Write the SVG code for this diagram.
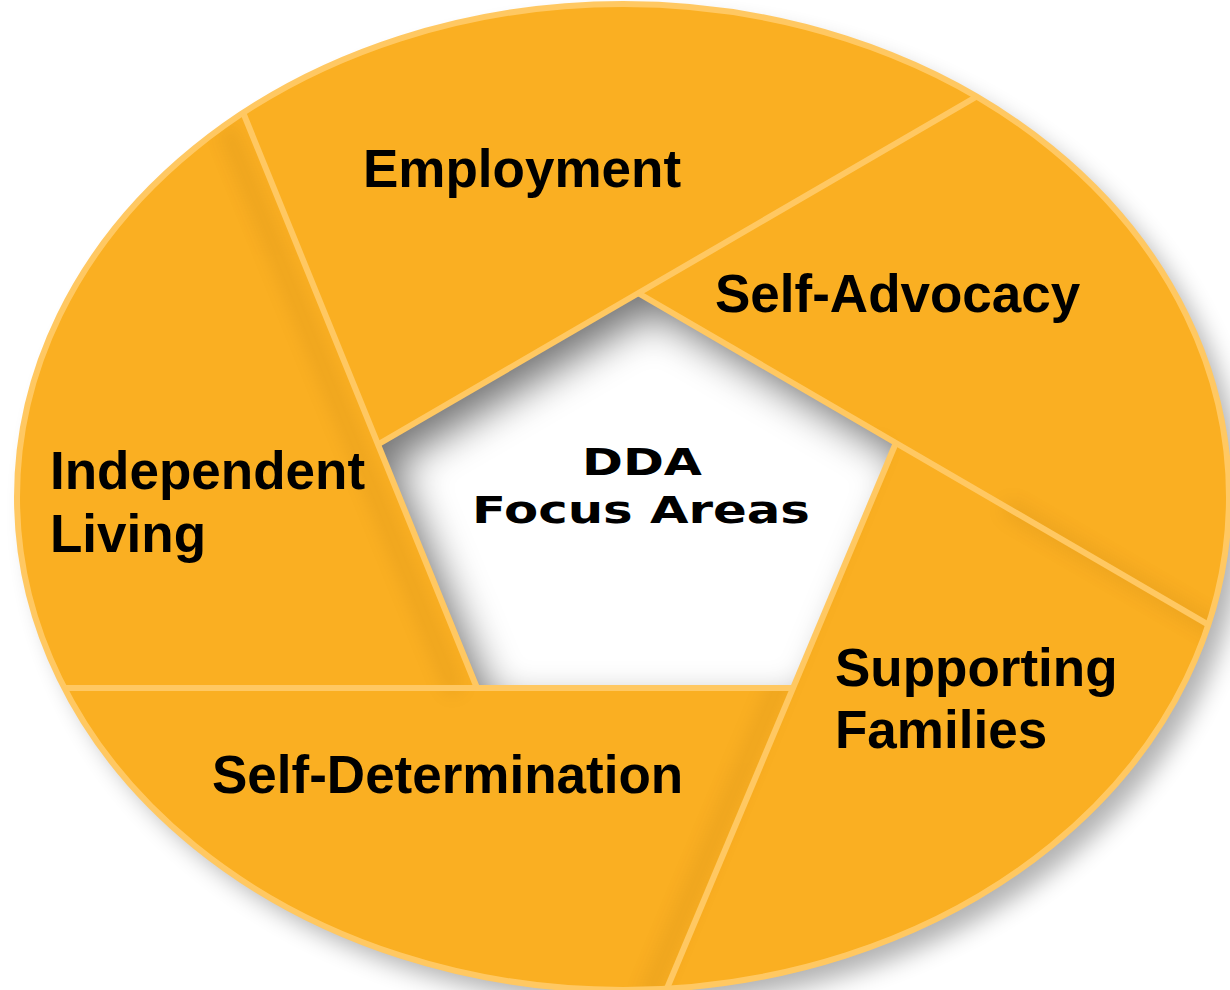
<svg xmlns="http://www.w3.org/2000/svg" width="1230" height="990" viewBox="0 0 1230 990">
<style>
.lbl{font-family:"Liberation Sans",Arial,sans-serif;font-weight:bold;font-size:53px;fill:#000}
.ctr{font-family:"DejaVu Sans",Verdana,sans-serif;font-weight:bold;font-size:38px;fill:#000}
.div{stroke:#FFC862;stroke-width:6;fill:none}
.sh{stroke:#7a4a00;stroke-width:18;fill:none;opacity:0.1}
</style>
<defs>
<filter id="drop" x="-10%" y="-10%" width="120%" height="120%"><feGaussianBlur stdDeviation="12"/></filter>
<filter id="soft" x="-20%" y="-20%" width="140%" height="140%"><feGaussianBlur stdDeviation="9"/></filter>
<filter id="inner" x="-20%" y="-20%" width="140%" height="140%"><feGaussianBlur stdDeviation="20"/></filter>
<clipPath id="ellClip"><ellipse cx="623" cy="497" rx="606" ry="493"/></clipPath>
<clipPath id="pentClip"><polygon points="638,293 895,445 794,688 477,688 377,445"/></clipPath>
</defs>
<rect width="1230" height="990" fill="#fff"/>
<ellipse cx="637" cy="512" rx="606" ry="493" fill="#000" opacity="0.3" filter="url(#drop)"/>
<ellipse cx="623" cy="497" rx="606" ry="493" fill="#FAAF22"/>
<g clip-path="url(#ellClip)">
<line class="sh" x1="470" y1="688" x2="240" y2="122" transform="translate(-14,5)" filter="url(#soft)"/>
<line class="sh" x1="794" y1="688" x2="40" y2="688" transform="translate(0,-13)" filter="url(#soft)"/>
<line class="sh" x1="895" y1="445" x2="660" y2="1005" transform="translate(-14,-4)" filter="url(#soft)"/>
<line class="sh" x1="1000" y1="520" x2="1240" y2="660" transform="translate(5,-14)" filter="url(#soft)"/>
</g>
<g id="center">
<polygon points="638,293 895,445 794,688 477,688 377,445" fill="#fff"/>
<g clip-path="url(#pentClip)">
<path d="M0,0H1230V990H0Z M638,293 L377,445 L477,688 L794,688 L895,445 Z" fill-rule="evenodd" fill="#000" opacity="0.55" transform="translate(16,18)" filter="url(#inner)"/>
</g>
<text class="ctr" x="642" y="475" text-anchor="middle" textLength="120" lengthAdjust="spacingAndGlyphs">DDA</text>
<text class="ctr" x="641" y="523" text-anchor="middle" textLength="338" lengthAdjust="spacingAndGlyphs">Focus Areas</text>
</g>
<g id="connectors" clip-path="url(#ellClip)">
<line class="div" x1="377" y1="445" x2="1000" y2="83"/>
<line class="div" x1="638" y1="293" x2="1245" y2="646"/>
<line class="div" x1="895" y1="445" x2="660" y2="1005"/>
<line class="div" x1="794" y1="688" x2="40" y2="688"/>
<line class="div" x1="477" y1="688" x2="238" y2="100"/>
</g>
<ellipse cx="623" cy="497" rx="606" ry="493" fill="none" stroke="#FFC862" stroke-width="6"/>
<g id="employment"><text class="lbl" x="363" y="187">Employment</text></g>
<g id="self-advocacy"><text class="lbl" x="715" y="312">Self-Advocacy</text></g>
<g id="independent-living"><text class="lbl" x="50" y="489">Independent</text><text class="lbl" x="50" y="552">Living</text></g>
<g id="self-determination"><text class="lbl" x="212" y="793">Self-Determination</text></g>
<g id="supporting-families"><text class="lbl" x="835" y="686">Supporting</text><text class="lbl" x="835" y="748">Families</text></g>
</svg>
